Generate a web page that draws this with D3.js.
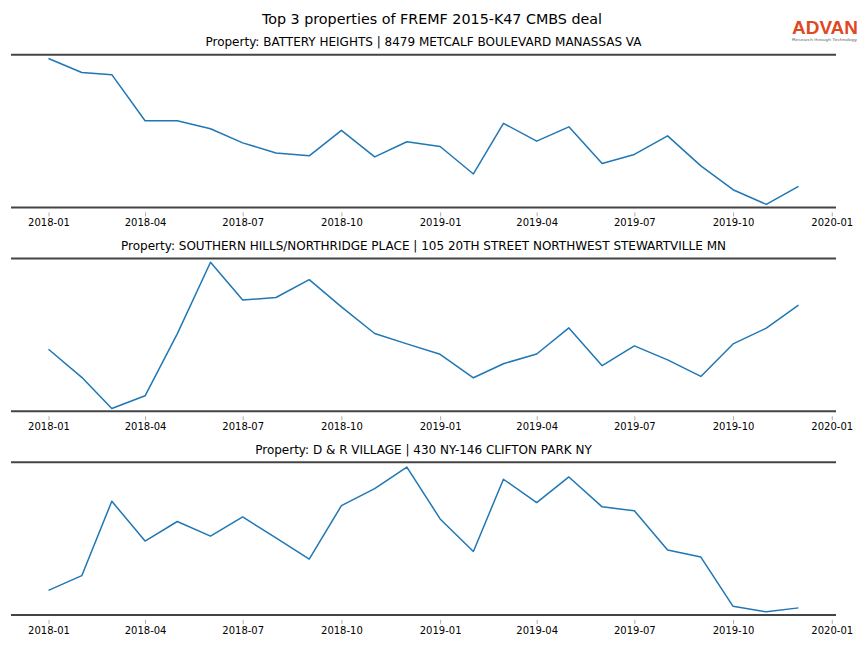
<!DOCTYPE html>
<html><head><meta charset="utf-8">
<script src="https://cdn.jsdelivr.net/npm/d3@7"></script>
<style>body{margin:0;background:#fff}svg{display:block}</style>
</head><body>
<script>
// ---- data ----
const months = ["2018-01","2018-02","2018-03","2018-04","2018-05","2018-06","2018-07","2018-08","2018-09","2018-10","2018-11","2018-12",
                "2019-01","2019-02","2019-03","2019-04","2019-05","2019-06","2019-07","2019-08","2019-09","2019-10","2019-11","2019-12"];
const tickLabels = ["2018-01","2018-04","2018-07","2018-10","2019-01","2019-04","2019-07","2019-10","2020-01"];
const mainTitle = "Top 3 properties of FREMF 2015-K47 CMBS deal";
const propertyTitles = [
  "Property: BATTERY HEIGHTS | 8479 METCALF BOULEVARD MANASSAS VA",
  "Property: SOUTHERN HILLS/NORTHRIDGE PLACE | 105 20TH STREET NORTHWEST STEWARTVILLE MN",
  "Property: D & R VILLAGE | 430 NY-146 CLIFTON PARK NY"
];
// relative foot-traffic index (no y axis shown in the reference)
const batteryHeights = [97.6,88.4,87.0,56.8,56.8,51.5,42.3,35.7,33.8,50.5,33.1,43.0,
                        39.9,21.9,55.1,43.4,52.8,28.8,34.7,46.9,27.2,11.6,2.0,13.8];
const southernHills  = [40.6,22.2,1.8,10.1,50.7,97.6,72.8,74.5,86.2,68.4,50.9,44.1,
                        37.3,21.9,31.1,37.5,54.6,29.8,42.8,33.6,22.8,44.1,54.4,69.5];
const drVillage      = [16.1,25.7,74.5,48.4,61.2,51.6,64.2,50.5,36.6,71.6,82.7,96.9,
                        62.9,41.6,88.9,73.6,90.4,70.8,68.2,42.5,37.9,5.6,2.0,4.6];
const yDomain = [0, 100];

const seriesList = [batteryHeights, southernHills, drVillage];

// ---- layout ----
const W = 864, H = 648;
const left = 11, right = 836;
const panelTops = [54.8, 258.6, 462.3];
const panelH = 152.6;

const svg = d3.select("body").append("svg").attr("width", W).attr("height", H)
  .style("font-family", "'DejaVu Sans', sans-serif");

const parse = d3.utcParse("%Y-%m");
const dates = months.map(parse);
const first = dates[0], last = dates[dates.length - 1];
const pad = (last - first) * 0.05;
const x = d3.scaleUtc().domain([new Date(+first - pad), new Date(+last + pad)]).range([left, right]);

svg.append("text").attr("x", 432).attr("y", 24).attr("text-anchor", "middle")
  .attr("font-size", 14.3).attr("fill", "#000").text(mainTitle);

seriesList.forEach((vals, i) => {
  const top = panelTops[i], bottom = top + panelH;
  const y = d3.scaleLinear().domain(yDomain).range([bottom, top]);
  const g = svg.append("g");

  g.append("text").attr("x", (left + right) / 2).attr("y", top - 8.5)
    .attr("text-anchor", "middle").attr("font-size", 12).attr("fill", "#000")
    .text(propertyTitles[i]);

  // x axis
  const ax = g.append("g").attr("transform", `translate(0,${bottom})`)
    .call(d3.axisBottom(x).tickValues(tickLabels.map(parse))
      .tickFormat(d3.utcFormat("%Y-%m")).tickSize(9).tickPadding(3));
  ax.select(".domain").remove();
  ax.selectAll(".tick line").attr("y1", 5).attr("stroke", "#999").attr("stroke-width", 0.8);
  ax.selectAll(".tick text").attr("font-size", 10).attr("fill", "#000")
    .attr("font-family", "'DejaVu Sans', sans-serif");

  // spines
  [top, bottom].forEach(yy => g.append("line").attr("x1", left).attr("x2", right)
    .attr("y1", yy).attr("y2", yy).attr("stroke", "#444").attr("stroke-width", 2));

  g.append("path").datum(vals)
    .attr("fill", "none").attr("stroke", "#1f77b4").attr("stroke-width", 1.5)
    .attr("stroke-linejoin", "round")
    .attr("d", d3.line().x((d, j) => x(dates[j])).y(d => y(d)));
});

// logo
const logo = svg.append("g");
logo.append("text").attr("x", 792).attr("y", 33.5)
  .attr("font-size", 18).attr("font-weight", "bold").attr("fill", "#e0481f")
  .attr("font-family", "'Liberation Sans', sans-serif")
  .attr("textLength", 66).attr("lengthAdjust", "spacingAndGlyphs")
  .text("ADVAN");
logo.append("text").attr("x", 792).attr("y", 40.5)
  .attr("font-size", 4.2).attr("fill", "#666")
  .attr("font-family", "'Liberation Sans', sans-serif")
  .attr("textLength", 65).attr("lengthAdjust", "spacingAndGlyphs")
  .text("Research through Technology");
</script>
</body></html>
